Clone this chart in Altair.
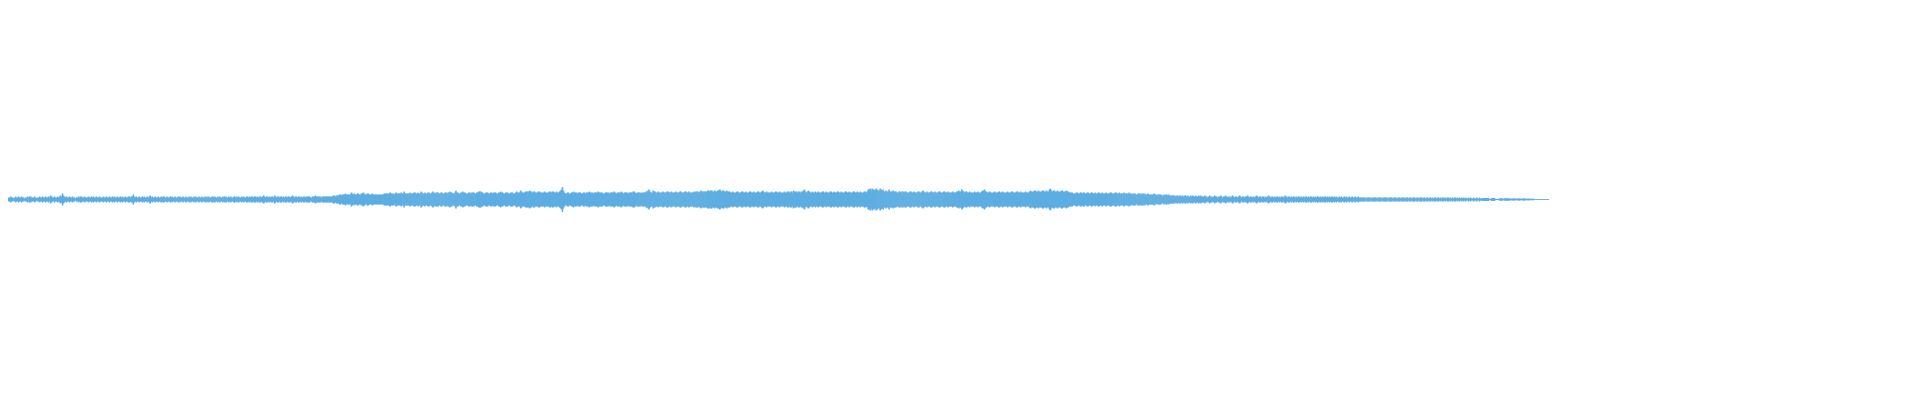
import altair as alt
import pandas as pd

# Half-height (pixels) of each 1px waveform column, read left to right.
amp_0000 = [2,2,3,2,2,1,2,3,2,2, 3,2,2,3,2,2,1,2,2,3, 2,3,3,2,2,2,3,2,1,2, 2,3,2,2,3,2,2,3,2,2, 3,2,4,3,2,2,3,2,2,3,
            2,3,4,3,6,4,3,2,3,2, 2,3,2,2,3,2,2,1,2,2, 3,2,3,3,2,2,3,2,2,2, 3,2,2,3,2,3,2,2,3,2, 2,3,2,2,2,3,2,2,3,2]
amp_0100 = [2,3,2,2,3,2,3,2,2,3, 2,2,3,2,3,2,2,3,2,2, 3,3,2,3,3,5,3,2,3,2, 2,3,2,2,3,2,3,2,2,3, 2,3,4,2,3,2,2,3,2,2,
            3,2,2,3,2,3,3,2,2,3, 2,2,3,2,3,2,2,3,2,2, 3,2,3,2,2,3,2,2,3,2, 2,3,2,3,2,2,3,2,3,2, 2,3,2,2,3,2,2,3,2,3]
amp_0200 = [2,3,2,2,3,3,2,3,2,2, 3,2,3,2,2,3,2,3,3,2, 2,3,2,3,2,2,3,3,2,3, 2,3,2,2,3,2,3,2,2,3, 3,2,3,2,3,3,2,3,3,2,
            3,2,3,3,2,3,4,3,2,3, 3,2,3,2,3,3,2,4,3,2, 3,3,2,3,3,2,3,2,3,3, 2,3,3,2,3,4,3,2,3,3, 2,3,3,2,3,2,3,3,2,3]
amp_0300 = [3,3,3,2,2,3,3,3,4,3, 3,3,3,3,2,3,3,3,3,3, 3,3,3,3,3,3,4,4,3,4, 4,4,5,5,4,5,5,5,6,5, 5,5,5,5,7,6,5,6,5,5,
            6,6,5,5,6,6,7,6,5,5, 6,6,5,5,5,6,5,5,5,5, 5,5,5,5,5,5,5,6,6,6, 6,6,6,7,6,6,6,5,6,7, 6,6,6,6,7,6,6,8,6,6]
amp_0400 = [6,6,6,7,6,6,6,7,7,6, 6,7,6,6,8,7,6,6,7,6, 6,7,7,6,6,7,8,7,6,7, 7,7,6,6,7,7,6,6,7,7, 6,7,7,8,7,7,6,6,7,9,
            7,7,6,6,7,7,8,7,7,6, 6,6,7,7,6,7,7,7,6,6, 7,7,8,8,8,7,7,6,6,7, 7,7,6,6,7,7,6,7,7,7, 6,6,7,7,8,7,7,6,6,7]
amp_0500 = [7,7,6,6,7,7,7,6,6,7, 8,7,7,7,9,8,7,7,7,8, 8,8,8,9,8,8,7,8,8,7, 7,7,8,8,7,7,7,7,8,7, 7,7,7,8,8,7,8,8,7,7,
            8,7,7,8,9,10,12.5,9,7,6, 6,7,7,6,6,7,7,8,7,7, 7,6,7,7,7,6,6,7,7,6, 7,7,7,8,7,7,7,6,7,7, 7,7,8,7,7,7,7,6,6,7]
amp_0600 = [7,7,7,6,7,7,7,7,8,7, 6,7,7,7,7,8,7,6,7,7, 7,7,6,7,7,7,7,8,8,7, 6,7,7,7,7,6,7,7,7,7, 8,8,9,10,8,7,7,9,8,8,
            7,7,8,7,7,7,7,8,7,7, 7,8,8,7,7,8,7,7,7,7, 8,7,7,7,8,8,7,7,7,8, 8,7,7,8,7,7,7,7,8,7, 8,8,8,7,8,9,8,8,8,8]
amp_0700 = [8,8,9,9,8,9,9,8,8,9, 8,8,9,9,10,9,8,9,9,8, 8,9,8,8,8,7,7,8,7,7, 7,8,8,7,7,7,8,8,7,7, 8,7,7,7,8,8,7,7,8,7,
            7,7,8,8,7,7,8,9,8,7, 7,8,7,7,7,7,8,7,7,7, 8,8,7,7,8,7,7,7,7,8, 7,7,8,8,7,8,8,7,9,8, 8,8,7,8,8,7,8,8,9,10]
amp_0800 = [8,7,8,9,8,7,7,8,7,7, 8,7,7,8,7,7,7,8,8,7, 7,8,7,7,7,8,8,7,7,8, 7,7,8,8,7,7,8,7,7,7, 8,8,7,7,8,7,7,7,8,8,
            7,7,8,7,7,8,7,7,7,8, 8,7,8,10,10,11,9,11,10,10, 9,11,10,9,9,11,10,9,10,8, 8,9,8,8,10,8,8,8,9,8, 8,8,7,7,8,8,7,8,8,7]
amp_0900 = [8,8,7,7,7,8,8,7,7,8, 7,7,7,8,8,7,7,8,9,8, 7,7,8,7,7,7,8,8,7,7, 8,7,7,7,8,8,7,7,7,8, 8,7,7,8,7,7,7,7,8,7,
            7,7,8,8,9,8,8,10,9,8, 7,8,8,7,7,8,7,7,7,7, 8,7,7,8,7,7,7,8,9,9, 10,8,8,7,7,8,7,7,7,7, 8,7,7,7,8,8,7,7,8,7]
amp_1000 = [7,7,7,8,7,7,7,8,8,7, 7,7,8,8,7,7,8,7,7,7, 7,8,7,7,7,8,9,8,8,8, 9,9,8,8,9,8,8,8,9,9, 8,8,9,8,8,10,11,9,8,9,
            9,8,8,9,8,8,8,9,9,8, 8,8,9,8,8,7,7,7,7,6, 6,6,7,7,6,6,7,7,6,7, 7,6,6,7,7,6,6,7,7,6, 6,7,6,6,7,7,6,6,7,6]
amp_1100 = [6,6,7,6,6,6,7,7,6,6, 6,7,7,6,6,7,6,6,6,6, 7,6,6,6,6,7,6,6,5,6, 6,6,5,5,6,6,6,5,6,6, 5,6,5,5,6,5,5,5,5,5,
            6,5,5,4,5,5,5,5,4,4, 5,4,5,5,4,5,4,4,4,4, 4,4,3,4,4,3,4,4,3,4, 3,4,4,3,4,3,3,4,3,4, 3,3,4,3,3,4,3,4,3,3]
amp_1200 = [3,4,3,3,2,3,4,3,3,2, 3,4,3,3,2,3,3,4,3,2, 3,3,4,3,2,3,3,2,3,4, 3,2,3,3,2,3,4,3,2,3, 3,2,3,3,4,3,2,3,3,2,
            3,2,3,4,3,2,3,3,2,3, 3,2,3,2,3,4,3,2,3,3, 2,3,2,3,3,2,3,2,3,3, 2,3,4,3,2,3,3,2,3,2, 3,3,2,3,2,3,3,2,3,2]
amp_1300 = [3,2,3,3,2,3,2,3,3,2, 3,2,3,2,3,3,2,3,2,3, 2,3,3,2,3,2,3,2,3,3, 2,3,2,3,2,2,3,2,3,2, 2,3,2,3,2,2,3,2,2,3,
            2,2,3,2,2,3,2,2,2,2, 2,2,2,1,2,2,2,2,1,2, 2,2,2,2,1,2,2,2,2,1, 2,2,2,2,2,1,2,2,2,2, 1,2,2,2,1,2,2,2,1,2]
amp_1400 = [2,2,1,2,2,2,1,2,2,1, 2,2,2,1,2,2,1,2,2,2, 1,2,2,1,2,2,1,2,2,1, 2,1,2,2,1,2,2,1,2,1, 2,2,1,2,1,2,2,1,2,1,
            2,1,2,2,1,2,1,2,1,2, 1,2,1,2,1,1,2,1,2,1, 1,2,1,1,2,1,1,2,
            1,1, 1.5,1.5,1.5,1.5,1.5,1.5,1.5, 0.5,0.5, 1.5,1.5,1.5,1.5, 0.5,0.5,0.5,0.5, 1.2,1.2,1.2]
amp_1500 = [1.2, 0.5, 1.2,1.2,1.2,1.2,1.2,1.2, 0.5, 1,1,1,1,1, 0.5, 1,1,1,1, 0.5, 1,1,1,1, 0.5, 0.9,0.9,0.9, 0.5,
            0.8,0.8,0.8, 0.4,0.4,0.4,0.4,0.4,0.4,0.4,0.4,0.4,0.4,0.4,0.4,0.4,0.4,0.4]

amps = (amp_0000 + amp_0100 + amp_0200 + amp_0300 + amp_0400 + amp_0500 + amp_0600 + amp_0700
        + amp_0800 + amp_0900 + amp_1000 + amp_1100 + amp_1200 + amp_1300 + amp_1400 + amp_1500)

df = pd.DataFrame({"i": list(range(len(amps))), "a": amps})

# Page has an 8px margin on every side; the plot area (1904x376) fits inside
# the 1920x400 window. Scales map one data unit to one pixel, with column 0 at
# the page's left edge and the centre line at page y = 199.5. Each column's
# rect reaches a little past its neighbour's edge so no anti-aliasing seams
# appear between columns.
chart = (
    alt.Chart(df)
    .transform_calculate(i2="datum.i + 1.6", lo="-datum.a")
    .mark_rect(color="#5dade2", strokeWidth=0)
    .encode(
        x=alt.X("i:Q", scale=alt.Scale(domain=[8, 1912], nice=False, zero=False), axis=None),
        x2="i2:Q",
        y=alt.Y("lo:Q", scale=alt.Scale(domain=[-184.5, 191.5], nice=False, zero=False), axis=None),
        y2="a:Q",
    )
    .properties(width=1904, height=376, padding=0)
    .configure_view(stroke=None)
)

chart.save("out.html", embed_options={"renderer": "svg", "actions": False})
